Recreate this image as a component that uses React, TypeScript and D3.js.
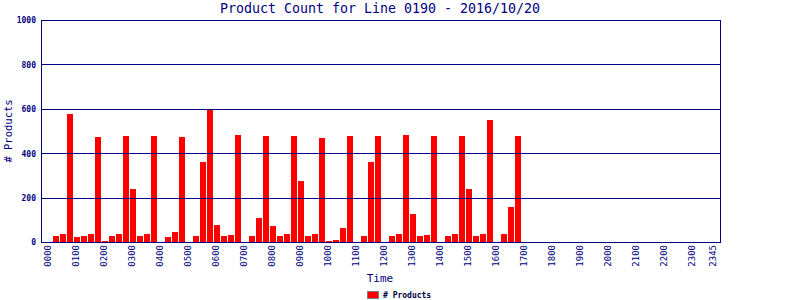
import React from "react";
import * as d3 from "d3";

const title = "Product Count for Line 0190 - 2016/10/20";
const yTicks = [0, 200, 400, 600, 800, 1000];
// 96 fifteen-minute slots, 0000 .. 2345
const counts = [
  0, 28, 37, 578, 24, 28, 37, 474, 6, 28, 37, 479, 240, 28, 37, 479,
  0, 24, 46, 474, 0, 28, 362, 600, 78, 28, 33, 483, 0, 28, 109, 479,
  73, 28, 37, 479, 276, 28, 37, 470, 6, 10, 64, 479, 0, 28, 362, 479,
  0, 28, 37, 483, 127, 28, 33, 479, 0, 28, 37, 479, 240, 28, 37, 551,
  0, 37, 159, 479, 0, 0, 0, 0, 0, 0, 0, 0, 0, 0, 0, 0,
  0, 0, 0, 0, 0, 0, 0, 0, 0, 0, 0, 0, 0, 0, 0, 0,
];
const slotLabels = counts.map((_, i) => {
  const h = Math.floor(i / 4);
  const m = (i % 4) * 15;
  return String(h).padStart(2, "0") + String(m).padStart(2, "0");
});
const labeledSlots = slotLabels.map((_, i) => i).filter((i) => i % 4 === 0 || i === 95);

const NAVY = "#000080";
const MONO = "'DejaVu Sans Mono', 'Liberation Mono', monospace";

export default function App() {
  const left = 41, right = 720, top = 20, bottom = 242;
  const x = d3.scaleBand<number>().domain(counts.map((_, i) => i)).range([46, 718]).paddingInner(0).paddingOuter(0);
  const y = d3.scaleLinear().domain([0, 1000]).range([bottom + 0.5, top + 0.5]);

  return (
    <svg width={800} height={300} style={{ position: "absolute", left: 0, top: 0, background: "#fff" }}>
      <rect x={0} y={0} width={800} height={300} fill="#fff" />
      <text x={380} y={13} textAnchor="middle" fontFamily={MONO} fontSize={13.3} fill={NAVY}>{title}</text>

      {/* bars */}
      {counts.map((v, i) =>
        v > 0 ? (
          <rect key={i} x={x(i)!} y={Math.round(y(v))} width={x.bandwidth() - 1} height={bottom - Math.round(y(v))} fill="#ff0000" shapeRendering="crispEdges" />
        ) : null
      )}

      {/* gridlines */}
      {yTicks.filter((t) => t > 0).map((t) => (
        <line key={t} x1={left} x2={right} y1={Math.floor(y(t)) + 0.5} y2={Math.floor(y(t)) + 0.5} stroke={NAVY} strokeWidth={1} shapeRendering="crispEdges" />
      ))}
      {/* frame */}
      <line x1={left + 0.5} x2={left + 0.5} y1={top} y2={bottom + 1} stroke={NAVY} shapeRendering="crispEdges" />
      <line x1={right + 0.5} x2={right + 0.5} y1={top} y2={bottom + 1} stroke={NAVY} shapeRendering="crispEdges" />
      <line x1={left} x2={right + 1} y1={bottom + 0.5} y2={bottom + 0.5} stroke={NAVY} shapeRendering="crispEdges" />

      {/* y tick labels */}
      {yTicks.map((t) => (
        <text key={t} x={36} y={y(t)} dy="0.35em" textAnchor="end" fontFamily={MONO} fontSize={8} fontWeight="bold" fill={NAVY}>{t}</text>
      ))}
      <text transform={`translate(12,131) rotate(-90)`} textAnchor="middle" fontFamily={MONO} fontSize={10.5} fill={NAVY}>
        # Products
      </text>

      {/* x tick labels */}
      {labeledSlots.map((i) => (
        <text key={i} transform={`translate(${x(i)! + 1.7},245) rotate(-90)`} textAnchor="end" dy="0.35em" fontFamily={MONO} fontSize={9} fill={NAVY}>
          {slotLabels[i]}
        </text>
      ))}
      <text x={380} y={282} textAnchor="middle" fontFamily={MONO} fontSize={11} fill={NAVY}>Time</text>

      {/* legend */}
      <rect x={367.5} y={291.5} width={11} height={7} fill="#ff0000" stroke="#808080" />
      <text x={383} y={298} fontFamily={MONO} fontSize={8} fontWeight="bold" fill="#000040">
        # Products
      </text>
    </svg>
  );
}
